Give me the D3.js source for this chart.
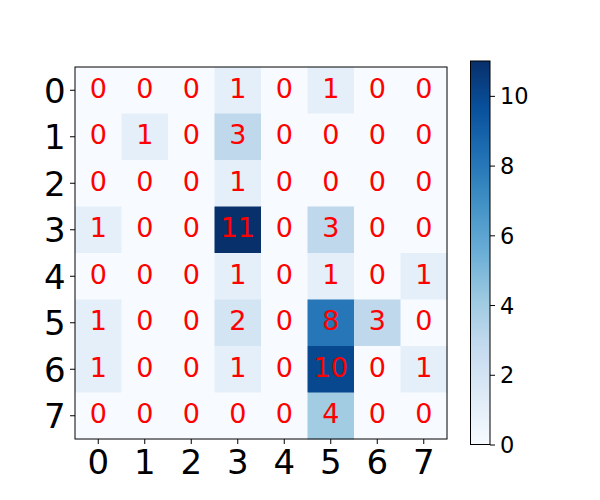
<!DOCTYPE html>
<html><head><meta charset="utf-8">
<script src="https://cdn.jsdelivr.net/npm/d3@7"></script>
<style>body{margin:0;background:#fff}svg{display:block;font-family:"DejaVu Sans",sans-serif}</style>
</head><body><svg id="c" width="600" height="500"></svg>
<script>
const rowLabels = ["0","1","2","3","4","5","6","7"];
const colLabels = ["0","1","2","3","4","5","6","7"];
const row0 = [0,0,0,1,0,1,0,0];
const row1 = [0,1,0,3,0,0,0,0];
const row2 = [0,0,0,1,0,0,0,0];
const row3 = [1,0,0,11,0,3,0,0];
const row4 = [0,0,0,1,0,1,0,1];
const row5 = [1,0,0,2,0,8,3,0];
const row6 = [1,0,0,1,0,10,0,1];
const row7 = [0,0,0,0,0,4,0,0];
const matrix = [row0,row1,row2,row3,row4,row5,row6,row7];
const cbTicks = [0,2,4,6,8,10];
const vmin = 0, vmax = 11;

const svg = d3.select("#c");
const L = 75, T = 67, S = 372;
const x = d3.scaleBand().domain(colLabels).range([L, L+S]);
const y = d3.scaleBand().domain(rowLabels).range([T, T+S]);
const blues = ["#f7fbff","#deebf7","#c6dbef","#9ecae1","#6baed6","#4292c6","#2171b5","#08519c","#08306b"];
const color = d3.scaleLinear().domain(blues.map((_,i)=>vmin+(vmax-vmin)*i/(blues.length-1))).range(blues).interpolate(d3.interpolateRgb);

const cells = [];
matrix.forEach((r,i)=>r.forEach((v,j)=>cells.push({r:rowLabels[i],c:colLabels[j],v})));
svg.append("g").selectAll("rect").data(cells).join("rect")
  .attr("x",d=>x(d.c)).attr("y",d=>y(d.r)).attr("width",x.bandwidth()+0.5).attr("height",y.bandwidth()+0.5)
  .attr("fill",d=>color(d.v));
svg.append("g").selectAll("text").data(cells).join("text")
  .attr("x",d=>x(d.c)+x.bandwidth()/2).attr("y",d=>y(d.r)+y.bandwidth()/2+7.3)
  .attr("text-anchor","middle").attr("font-size",27).attr("fill","red").text(d=>d.v);
svg.append("rect").attr("x",L).attr("y",T).attr("width",S).attr("height",S).attr("fill","none").attr("stroke","#000").attr("stroke-width",1);

const ax = svg.append("g").attr("transform",`translate(0,${T+S})`).call(d3.axisBottom(x).tickSize(5));
ax.select(".domain").remove();
ax.selectAll("text").attr("font-size",34).attr("fill","#000").attr("font-family","DejaVu Sans").attr("y",35.3).attr("dy",0);
ax.selectAll("line").attr("stroke","#000");
const ay = svg.append("g").attr("transform",`translate(${L},0)`).call(d3.axisLeft(y).tickSize(5).tickPadding(4.4));
ay.select(".domain").remove();
ay.selectAll("text").attr("font-size",34).attr("fill","#000").attr("dy","0.36em").attr("font-family","DejaVu Sans");
ay.selectAll("line").attr("stroke","#000");

// colorbar
const cbX = 470.5, cbW = 19.5, cbTop = 61, cbBot = 444.5;
const cy = d3.scaleLinear().domain([vmin,vmax]).range([cbBot,cbTop]);
const defs = svg.append("defs");
const grad = defs.append("linearGradient").attr("id","g").attr("x1",0).attr("y1",1).attr("x2",0).attr("y2",0);
blues.forEach((c,i)=>grad.append("stop").attr("offset",i/(blues.length-1)).attr("stop-color",c));
svg.append("rect").attr("x",cbX).attr("y",cbTop).attr("width",cbW).attr("height",cbBot-cbTop).attr("fill","url(#g)").attr("stroke","#000").attr("stroke-width",1);
const ac = svg.append("g").attr("transform",`translate(${cbX+cbW},0)`).call(d3.axisRight(cy).tickValues(cbTicks).tickSize(5).tickPadding(5));
ac.select(".domain").remove();
ac.selectAll("text").attr("font-size",22.5).attr("fill","#000").attr("dy","0.36em").attr("font-family","DejaVu Sans");
ac.selectAll("line").attr("stroke","#000");
</script></body></html>
